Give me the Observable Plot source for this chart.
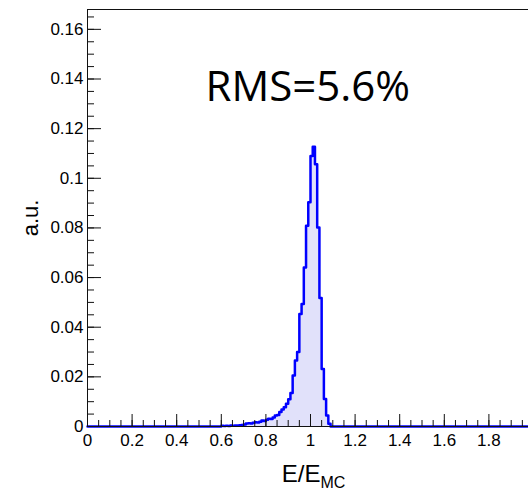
<!DOCTYPE html>
<html><head><meta charset="utf-8">
<script src="https://cdn.jsdelivr.net/npm/d3@7"></script>
<script src="https://cdn.jsdelivr.net/npm/@observablehq/plot@0.6"></script>
<style>
html,body{margin:0;padding:0;overflow:hidden;background:#fff;}
#chart{width:560px;}
#chart svg{display:block;max-width:none !important;}
</style>
</head><body><div id="chart"></div>
<script>
// ---- data ----
const binWidth = 0.01;
const nBins = 200;              // histogram from 0 to 2
const filledStart = 60;          // first listed bin (0.60)
const filledValues = [
  0.0003, 0.0002, 0.0003, 0.0002, 0.0004, 0.0003, 0.0004, 0.0004, 0.0005, 0.0006, // 0.60-0.69
  0.0008, 0.0012, 0.0013, 0.0012, 0.0015, 0.0017, 0.0016, 0.0019, 0.0024, 0.0022, // 0.70-0.79
  0.0027, 0.0031, 0.0030, 0.0036, 0.0044, 0.0046, 0.0058, 0.0068, 0.0078, 0.0092, // 0.80-0.89
  0.0110, 0.0135, 0.0205, 0.0266, 0.0300, 0.0453, 0.0494, 0.0641, 0.0809, 0.0903, // 0.90-0.99
  0.1090, 0.1127, 0.1057, 0.0802, 0.0518, 0.0232, 0.0111, 0.0044, 0.0011          // 1.00-1.08
];
const xDomain = [0, 2];
const yDomain = [0, 0.168];
const xMajor = [0, 0.2, 0.4, 0.6, 0.8, 1, 1.2, 1.4, 1.6, 1.8, 2];
const yMajor = [0, 0.02, 0.04, 0.06, 0.08, 0.1, 0.12, 0.14, 0.16];
const xMinorStep = 0.05;
const yMinorStep = 0.005;
const titleText = "RMS=5.6%";
const xLabelMain = "E/E";
const xLabelSub = "MC";
const yLabel = "a.u.";

// ---- build table ----
const bins = [];
for (let i = 0; i < nBins; i++) {
  const j = i - filledStart;
  const v = (j >= 0 && j < filledValues.length) ? filledValues[j] : 0;
  bins.push({x: Math.round(i * binWidth * 1000) / 1000, v});
}
bins.push({x: xDomain[1], v: 0});
const xMinor = d3.range(0, Math.round(xDomain[1] / xMinorStep) + 1).map(k => k * xMinorStep);
const yMinor = d3.range(0, Math.floor(yDomain[1] / yMinorStep) + 1).map(k => k * yMinorStep);

const W = 560, H = 492, ML = 87, MR = 27, MT = 9, MB = 66;
const fw = W - ML - MR, fh = H - MT - MB;
const tickFont = "'Liberation Sans', Arial, Helvetica, sans-serif";

const chart = Plot.plot({
  width: W, height: H,
  marginLeft: ML, marginRight: MR, marginTop: MT, marginBottom: MB,
  x: {domain: xDomain},
  y: {domain: yDomain},
  style: {fontFamily: tickFont, fontSize: "17px", color: "#000", background: "#fff", maxWidth: "none"},
  marks: [
    Plot.areaY(bins, {x: "x", y: "v", curve: "step-after", fill: "#e1e1fa"}),
    Plot.line(bins, {x: "x", y: "v", curve: "step-after", stroke: "#0000ff", strokeWidth: 2.5}),
    Plot.tickX(xMinor, {x: d => d, insetTop: fh - 6, stroke: "#111"}),
    Plot.tickX(xMajor, {x: d => d, insetTop: fh - 12, stroke: "#111"}),
    Plot.tickY(yMinor, {y: d => d, insetRight: fw - 7, stroke: "#111"}),
    Plot.tickY(yMajor, {y: d => d, insetRight: fw - 14, stroke: "#111"}),
    Plot.axisX(xMajor, {tickSize: 0, tickPadding: 7, label: null, fontSize: 17, tickFormat: d => String(d)}),
    Plot.axisY(yMajor, {tickSize: 0, tickPadding: 4, label: null, fontSize: 17, tickFormat: d => String(d)}),
    Plot.frame({stroke: "#111"}),
    Plot.text([titleText], {frameAnchor: "top-left", dx: 118, dy: 91, lineAnchor: "bottom", textAnchor: "start",
      fontSize: 42, fontFamily: "'Open Sans', 'Noto Sans', sans-serif", fill: "#000"}),
    Plot.text([yLabel], {frameAnchor: "left", dx: -57, rotate: -90, textAnchor: "middle", lineAnchor: "middle",
      fontSize: 22, fill: "#000"}),
    Plot.text([xLabelMain], {frameAnchor: "bottom", dx: 10, dy: 55, lineAnchor: "bottom", textAnchor: "end",
      fontSize: 24, fill: "#000"}),
    Plot.text([xLabelSub], {frameAnchor: "bottom", dx: 10, dy: 61, lineAnchor: "bottom", textAnchor: "start",
      fontSize: 16, fill: "#000"})
  ]
});
document.getElementById("chart").appendChild(chart);
</script>
</body></html>
